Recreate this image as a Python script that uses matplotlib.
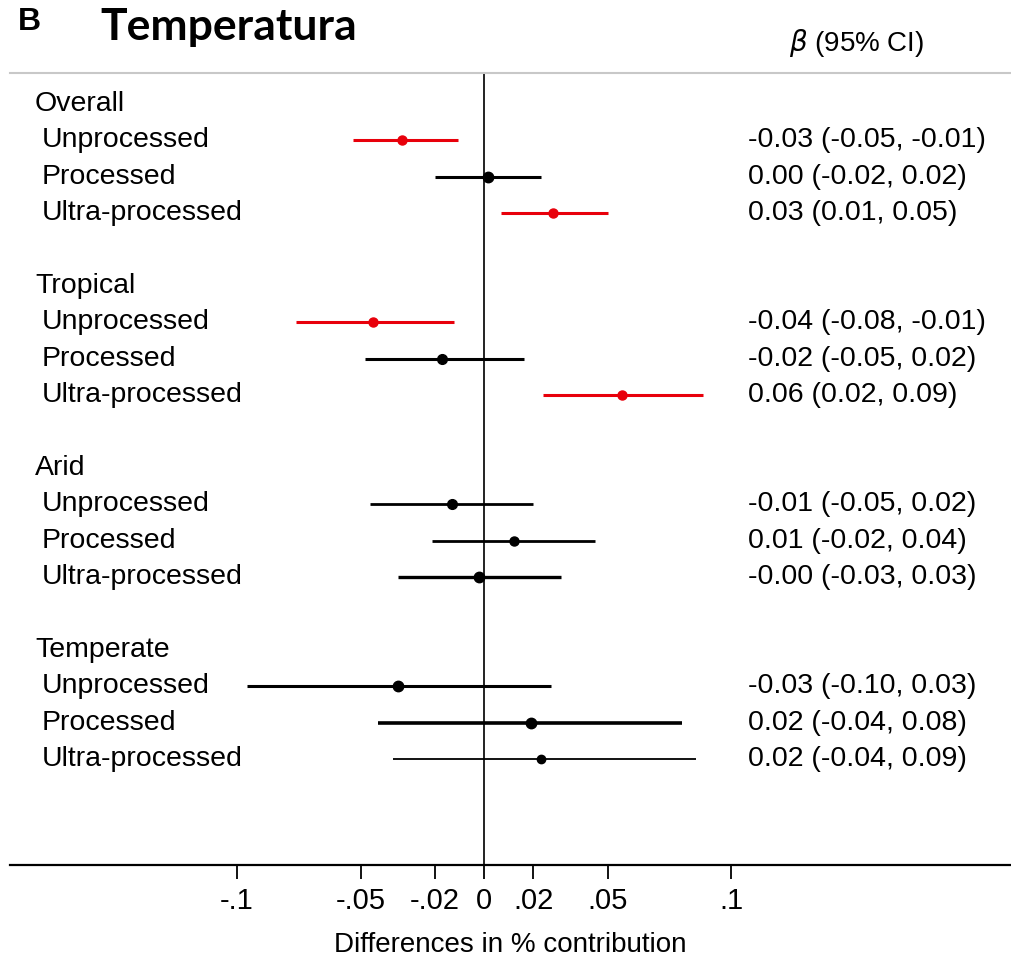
import matplotlib
matplotlib.use("Agg")
import matplotlib.pyplot as plt
import matplotlib.transforms as mtransforms

# ---------------- data ----------------
groups = ["Overall", "Tropical", "Arid", "Temperate"]
items = ["Unprocessed", "Processed", "Ultra-processed"]

beta = [[-0.033, 0.0015, 0.028],
        [-0.045, -0.017, 0.056],
        [-0.013, 0.012, -0.002],
        [-0.035, 0.019, 0.023]]
ci_low = [[-0.053, -0.020, 0.007],
          [-0.076, -0.048, 0.024],
          [-0.046, -0.021, -0.035],
          [-0.096, -0.043, -0.037]]
ci_high = [[-0.0105, 0.023, 0.050],
           [-0.012, 0.016, 0.0885],
           [0.020, 0.045, 0.031],
           [0.027, 0.080, 0.086]]
significant = [[True, False, True],
               [True, False, True],
               [False, False, False],
               [False, False, False]]
ci_text = [["-0.03 (-0.05, -0.01)", "0.00 (-0.02, 0.02)", "0.03 (0.01, 0.05)"],
           ["-0.04 (-0.08, -0.01)", "-0.02 (-0.05, 0.02)", "0.06 (0.02, 0.09)"],
           ["-0.01 (-0.05, 0.02)", "0.01 (-0.02, 0.04)", "-0.00 (-0.03, 0.03)"],
           ["-0.03 (-0.10, 0.03)", "0.02 (-0.04, 0.08)", "0.02 (-0.04, 0.09)"]]
xticks = [-0.1, -0.05, -0.02, 0, 0.02, 0.05, 0.1]
xtick_labels = ["-.1", "-.05", "-.02", "0", ".02", ".05", ".1"]

# line widths / marker sizes (style)
lw = [[2.2, 2.2, 2.2], [2.2, 2.2, 2.2], [2.0, 2.0, 2.4], [2.2, 2.6, 1.3]]
ms = [[6.5, 7.5, 6.5], [6.5, 7, 6.5], [7, 6.5, 7.5], [7.5, 7.5, 6]]

W, H = 1011, 964
fig = plt.figure(figsize=(W / 100, H / 100), dpi=100)
plt.rcParams['font.family'] = ['Liberation Sans', 'DejaVu Sans']

ax_left, ax_right = 10 / W, 1.0
ax_top, ax_bot = 73 / H, 865 / H
ax = fig.add_axes([ax_left, 1 - ax_bot, ax_right - ax_left, ax_bot - ax_top])

x0_px, px_per_unit = 484, 2470
ax.set_xlim((10 - x0_px) / px_per_unit, (1011 - x0_px) / px_per_unit)
row_h = 36.4
top_row_px = 104
ax.set_ylim((865 - top_row_px) / row_h, (73 - top_row_px) / row_h)

red = "#e8000b"
trans_lbl = mtransforms.blended_transform_factory(fig.transFigure, ax.transData)

label_fs = 20.5
for g, gname in enumerate(groups):
    base = g * 5
    ax.text(35 / W, base, gname, transform=trans_lbl, fontsize=label_fs,
            va="center", ha="left")
    for i, it in enumerate(items):
        r = base + 1 + i
        col = red if significant[g][i] else "black"
        ax.plot([ci_low[g][i], ci_high[g][i]], [r, r], color=col,
                lw=lw[g][i], solid_capstyle="butt", zorder=3)
        ax.plot(beta[g][i], r, "o", color=col, ms=ms[g][i], zorder=4)
        ax.text(42 / W, r, it, transform=trans_lbl, fontsize=label_fs,
                va="center", ha="left")
        ax.text(748 / W, r, ci_text[g][i], transform=trans_lbl,
                fontsize=label_fs, va="center", ha="left")

ax.axvline(0, color="#222222", lw=1.4, zorder=2)

for s in ["left", "right"]:
    ax.spines[s].set_visible(False)
ax.spines["top"].set_color("#c8c8c8")
ax.spines["top"].set_linewidth(1.5)
ax.spines["bottom"].set_linewidth(1.6)
ax.set_yticks([])
ax.set_xticks(xticks)
ax.set_xticklabels(xtick_labels, fontsize=21)
ax.tick_params(axis="x", direction="out", length=10, width=1.3, pad=6)
ax.set_xlabel("Differences in % contribution", fontsize=20, labelpad=12)

fig.text(18 / W, 1 - 22 / H, "B", fontsize=23, fontweight="bold",
         va="center", ha="left")
fig.text(100 / W, 1 - 27 / H, "Temperatura", fontsize=32, fontweight="bold",
         family=["Lato", "Open Sans", "DejaVu Sans"], va="center", ha="left")
fig.text(857 / W, 1 - 43 / H, r"$\beta$ (95% CI)", fontsize=20,
         va="center", ha="center")

fig.savefig("out.png", dpi=100)
